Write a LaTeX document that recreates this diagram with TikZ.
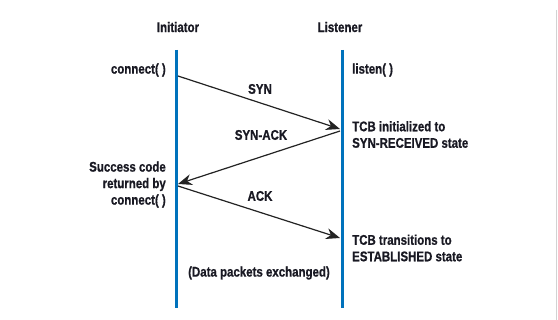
\documentclass[tikz,border=0pt]{standalone}
\usepackage{fontspec}
\setmainfont{Liberation Sans}[FakeStretch=0.82, BoldFeatures={FakeBold=0.8}]
\usetikzlibrary{arrows.meta}
\definecolor{lifeblue}{RGB}{0,114,188}
\definecolor{msgdark}{RGB}{35,35,35}
\definecolor{textdark}{RGB}{25,25,35}
\tikzset{
  lifeline/.style={draw=lifeblue, line width=3pt},
  msg/.style={draw=msgdark, line width=1.2pt, -{Stealth[length=14pt, width=11pt, inset=4.5pt]}},
  lbl/.style={font=\bfseries\fontsize{14}{16.5}\selectfont, text=textdark, inner sep=0pt},
}
\begin{document}
\begin{tikzpicture}[x=1pt, y=-1pt]
  \useasboundingbox (0,0) rectangle (558,320);
  \fill[white] (0,0) rectangle (558,320);
  % thin frame edge at the right
  \draw[gray!35, line width=0.8pt] (556.5,10) -- (556.5,320);

  % lifelines
  \coordinate (itop) at (176,50);
  \coordinate (ibot) at (176,308);
  \coordinate (ltop) at (342,50);
  \coordinate (lbot) at (342,308);
  \draw[lifeline] (itop) -- (ibot);
  \draw[lifeline] (ltop) -- (lbot);

  \node[lbl] (init) at (178,27) {Initiator};
  \node[lbl] (list) at (340,27) {Listener};

  % message endpoints on the lifelines
  \coordinate (syn0) at (178,76);
  \coordinate (syn1) at (340,129);
  \coordinate (sa0) at (340,131);
  \coordinate (sa1) at (178,184);
  \coordinate (ack0) at (178,186);
  \coordinate (ack1) at (340,238);

  \draw[msg] (syn0) -- (syn1);
  \draw[msg] (sa0) -- (sa1);
  \draw[msg] (ack0) -- (ack1);

  \node[lbl] (synl) at (260,89) {SYN};
  \node[lbl] (sal) at (261,135) {SYN-ACK};
  \node[lbl] (ackl) at (260,196) {ACK};

  % side notes
  \node[lbl, anchor=east] (conn) at (166,70) {connect( )};
  \node[lbl, anchor=west] (listen) at (352,70) {listen( )};
  \node[lbl, anchor=west, align=left] (tcb1) at (352,134.5) {TCB initialized to\\SYN-RECEIVED state};
  \node[lbl, anchor=east, align=right] (succ) at (166,184.5) {Success code\\returned by\\connect( )};
  \node[lbl, anchor=west, align=left] (tcb2) at (352,248) {TCB transitions to\\ESTABLISHED state};
  \node[lbl] (data) at (259,273) {(Data packets exchanged)};
\end{tikzpicture}
\end{document}
